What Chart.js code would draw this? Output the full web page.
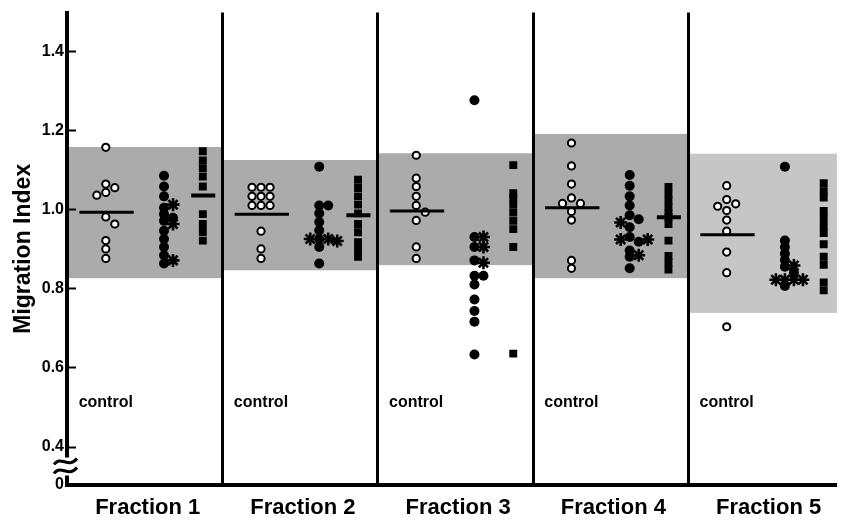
<!DOCTYPE html>
<html>
<head>
<meta charset="utf-8">
<script src="https://cdn.jsdelivr.net/npm/chart.js@4.4.0/dist/chart.umd.min.js"></script>
<style>
  body { margin: 0; background: #fff; }
  #wrap { width: 846px; height: 521px; }
</style>
</head>
<body>
<div id="wrap"><canvas id="migrationChart" width="846" height="521"></canvas></div>
<script>
// Fractions along the x axis
const fractions = ["Fraction 1", "Fraction 2", "Fraction 3", "Fraction 4", "Fraction 5"];
const controlLabel = "control";

// Control range (shaded band) per fraction
const bandLow  = [0.826, 0.846, 0.859, 0.826, 0.738];
const bandHigh = [1.158, 1.125, 1.142, 1.191, 1.141];

// Open circles (control)
const controlValues = [
  [1.157, 1.064, 1.055, 1.043, 1.036, 0.981, 0.963, 0.921, 0.900, 0.876],
  [1.056, 1.056, 1.056, 1.033, 1.033, 1.033, 1.010, 1.010, 1.010, 0.945, 0.900, 0.876],
  [1.137, 1.079, 1.058, 1.033, 1.010, 0.993, 0.972, 0.905, 0.876],
  [1.168, 1.110, 1.064, 1.029, 1.015, 1.015, 0.995, 0.973, 0.871, 0.851],
  [1.060, 1.025, 1.014, 1.008, 0.997, 0.973, 0.945, 0.892, 0.840, 0.703]
];
const controlMeans = [0.993, 0.988, 0.996, 1.004, 0.936];

// Filled circles
const filledValues = [
  [1.085, 1.058, 1.033, 1.004, 0.988, 0.979, 0.971, 0.946, 0.925, 0.905, 0.884, 0.863],
  [1.108, 1.010, 1.010, 0.990, 0.968, 0.947, 0.925, 0.905, 0.863],
  [1.276, 0.930, 0.905, 0.871, 0.832, 0.832, 0.810, 0.772, 0.743, 0.716, 0.633],
  [1.087, 1.060, 1.033, 1.010, 0.985, 0.975, 0.955, 0.930, 0.918, 0.896, 0.880, 0.851],
  [1.108, 0.921, 0.905, 0.888, 0.872, 0.855, 0.840, 0.806]
];

// Asterisks
const starValues = [
  [1.012, 0.963, 0.871],
  [0.925, 0.925, 0.920],
  [0.930, 0.905, 0.865],
  [0.967, 0.924, 0.924, 0.884],
  [0.858, 0.822, 0.822, 0.822, 0.822]
];

// Filled squares
const squareValues = [
  [1.147, 1.124, 1.104, 1.083, 1.058, 0.988, 0.963, 0.943, 0.921],
  [1.075, 1.054, 1.033, 1.012, 0.990, 0.963, 0.942, 0.917, 0.900, 0.880],
  [1.112, 1.041, 1.029, 1.012, 0.992, 0.971, 0.950, 0.905, 0.635],
  [1.057, 1.040, 1.023, 1.006, 0.990, 0.980, 0.963, 0.921, 0.882, 0.865, 0.848],
  [1.066, 1.046, 1.030, 0.996, 0.978, 0.958, 0.940, 0.912, 0.880, 0.860, 0.815, 0.795]
];
const squareMeans = [1.035, 0.985, null, 0.980, null];

// Y axis (broken below 0.4, bottom labelled 0)
const yMin = 0.3026, yMax = 1.498;
const yTickValues = [yMin, 0.4, 0.6, 0.8, 1.0, 1.2, 1.4];
const yTickLabels = ["0", "0.4", "0.6", "0.8", "1.0", "1.2", "1.4"];

// column layout inside one fraction
const colControl = 0.25, colPatient = 0.625, colSquare = 0.875;
const slotStep = 0.058;

// spread points sideways when values sit too close in one column
function dodge(sets, cx, minGap) {
  const placed = [];
  return sets.map(vals => vals.map(v => {
    for (const k of [0, 1, -1, 2, -2]) {
      if (!placed.some(p => p.k === k && Math.abs(p.v - v) < minGap - 1e-9)) {
        placed.push({ k, v });
        return { x: cx + k * slotStep, y: v };
      }
    }
    return { x: cx, y: v };
  }));
}

const openPts = [], filledPts = [], starPts = [], squarePts = [];
fractions.forEach((f, i) => {
  openPts.push(...dodge([controlValues[i]], i + colControl, 0.02)[0]);
  const [fp, sp] = dodge([filledValues[i], starValues[i]], i + colPatient, 0.016);
  filledPts.push(...fp);
  starPts.push(...sp);
  squarePts.push(...dodge([squareValues[i]], i + colSquare, 0.008)[0]);
});

const meanLines = [];
controlMeans.forEach((m, i) => {
  meanLines.push({
    data: [{ x: i + 0.08, y: m }, { x: i + 0.43, y: m }],
    showLine: true, borderColor: "#000", borderWidth: 3, pointRadius: 0
  });
});
squareMeans.forEach((m, i) => {
  if (m === null) return;
  meanLines.push({
    data: [{ x: i + 0.80, y: m }, { x: i + 0.955, y: m }],
    showLine: true, borderColor: "#000", borderWidth: 4, pointRadius: 0
  });
});

const sans = "Arial, 'Liberation Sans', sans-serif";

const overlay = {
  id: "overlay",
  beforeDatasetsDraw(chart) {
    const { ctx, chartArea: a, scales: { x, y } } = chart;
    ctx.save();
    fractions.forEach((f, i) => {
      const x0 = Math.max(x.getPixelForValue(i), a.left + 2);
      const x1 = Math.min(x.getPixelForValue(i + 1), a.right);
      const top = y.getPixelForValue(bandHigh[i]);
      ctx.fillStyle = i === 4 ? "#c6c6c6" : "#ababab";
      ctx.fillRect(x0, top, x1 - x0, y.getPixelForValue(bandLow[i]) - top);
    });
    ctx.strokeStyle = "#000";
    ctx.lineWidth = 3;
    for (let i = 1; i < fractions.length; i++) {
      const px = Math.round(x.getPixelForValue(i)) + 0.5;
      ctx.beginPath();
      ctx.moveTo(px, a.top);
      ctx.lineTo(px, a.bottom);
      ctx.stroke();
    }
    ctx.fillStyle = "#000";
    ctx.font = "bold 16px " + sans;
    ctx.textBaseline = "middle";
    fractions.forEach((f, i) => {
      ctx.fillText(controlLabel, x.getPixelForValue(i + 0.075), y.getPixelForValue(0.51));
    });
    ctx.restore();
  },
  afterDraw(chart) {
    const { ctx, chartArea: a, scales: { y } } = chart;
    ctx.save();
    ctx.strokeStyle = "#000";
    ctx.lineWidth = 2;
    yTickValues.slice(1).forEach(v => {
      const py = Math.round(y.getPixelForValue(v)) + 0.5;
      ctx.beginPath();
      ctx.moveTo(a.left, py);
      ctx.lineTo(a.left + 9, py);
      ctx.stroke();
    });
    // axis break
    const b0 = y.getPixelForValue(0.4) + 11, b1 = b0 + 18;
    ctx.fillStyle = "#fff";
    ctx.fillRect(a.left - 3, b0, 6, b1 - b0);
    ctx.lineWidth = 3;
    [b0 + 4, b0 + 13].forEach(cy => {
      ctx.beginPath();
      ctx.moveTo(a.left - 13, cy + 3);
      ctx.bezierCurveTo(a.left - 6, cy - 7, a.left + 1, cy + 8, a.left + 10, cy - 3);
      ctx.stroke();
    });
    ctx.restore();
  }
};

new Chart(document.getElementById("migrationChart"), {
  type: "scatter",
  data: {
    datasets: [
      ...meanLines,
      { data: openPts, pointStyle: "circle", pointRadius: 3.6, borderWidth: 2,
        borderColor: "#000", backgroundColor: "#fff" },
      { data: filledPts, pointStyle: "circle", pointRadius: 5, borderWidth: 0,
        borderColor: "#000", backgroundColor: "#000" },
      { data: starPts, pointStyle: "star", pointRadius: 6.5, borderWidth: 2.6,
        borderColor: "#000", backgroundColor: "#000" },
      { data: squarePts, pointStyle: "rect", pointRadius: 5.6, borderWidth: 0,
        borderColor: "#000", backgroundColor: "#000" }
    ]
  },
  options: {
    responsive: false,
    animation: false,
    events: [],
    layout: { padding: { top: 5, right: 0, left: 0, bottom: 0 } },
    plugins: { legend: { display: false }, tooltip: { enabled: false } },
    scales: {
      x: {
        type: "linear", min: 0, max: 4.96,
        afterBuildTicks: s => { s.ticks = fractions.map((f, i) => ({ value: i + 0.52 })); },
        afterFit: s => { s.height = 36; },
        ticks: {
          callback: (v, i) => fractions[i],
          color: "#000", padding: 10, maxRotation: 0, autoSkip: false,
          font: { family: sans, size: 22, weight: "bold" }
        },
        grid: { display: false, drawTicks: false },
        border: { display: true, color: "#000", width: 4 }
      },
      y: {
        min: yMin, max: yMax,
        afterBuildTicks: s => { s.ticks = yTickValues.map(v => ({ value: v })); },
        afterFit: s => { s.width = 67; },
        ticks: {
          callback: (v, i) => yTickLabels[i],
          color: "#000", padding: 3,
          font: { family: sans, size: 16, weight: "bold" }
        },
        grid: { display: false, drawTicks: false },
        border: { display: true, color: "#000", width: 4 },
        title: {
          display: true, text: "Migration Index", color: "#000",
          padding: { top: 10, bottom: 0 },
          font: { family: sans, size: 23, weight: "bold" }
        }
      }
    }
  },
  plugins: [overlay]
});
</script>
</body>
</html>
